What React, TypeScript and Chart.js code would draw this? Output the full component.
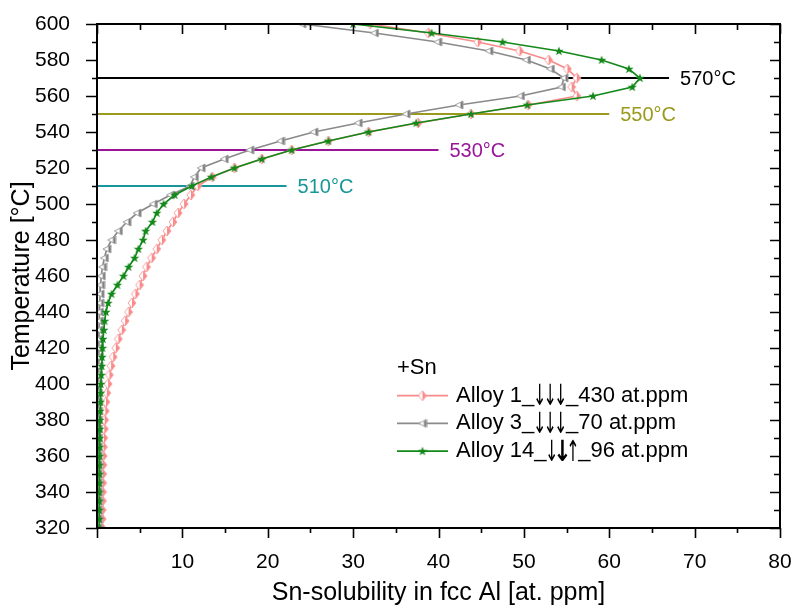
import React, { useEffect, useRef } from 'react';
import { Chart, registerables } from 'chart.js';

Chart.register(...registerables);

// Temperatures (°C), 600 → 320 in 5 °C steps
const temperatures = [
  600, 595, 590, 585, 580, 575, 570, 565, 560, 555, 550, 545, 540, 535, 530, 525, 520, 515, 510, 505,
  500, 495, 490, 485, 480, 475, 470, 465, 460, 455, 450, 445, 440, 435, 430, 425, 420, 415, 410, 405,
  400, 395, 390, 385, 380, 375, 370, 365, 360, 355, 350, 345, 340, 335, 330, 325, 320,
];

// Sn solubility in fcc Al [at. ppm]
const alloy1 = [
  32, 38.8, 44.6, 49.5, 52.9, 55.1, 56.2, 55.6, 56.2, 50.5, 43.8, 37.6, 31.8, 27.1, 22.8, 19.3, 16.1, 13.5, 11.8, 11.0,
  10.2, 9.5, 8.9, 8.2, 7.6, 7.0, 6.4, 5.8, 5.4, 5.0, 4.5, 4.1, 3.7, 3.3, 2.9, 2.5, 2.2, 1.9, 1.65, 1.45,
  1.3, 1.15, 1.05, 0.97, 0.9, 0.85, 0.8, 0.76, 0.73, 0.7, 0.68, 0.66, 0.65, 0.64, 0.62, 0.61, 0.6,
];
const alloy3 = [
  24, 32.5, 39.9, 45.9, 50.3, 53.1, 54.7, 54.4, 49.6, 42.4, 36.2, 30.6, 25.4, 21.5, 17.9, 14.9, 12.2, 11.4, 10.9, 8.6,
  6.6, 4.7, 3.5, 2.5, 1.7, 1.15, 0.86, 0.65, 0.5, 0.42, 0.36, 0.32, 0.28, 0.25, 0.23, 0.21, 0.2, 0.19, 0.18, 0.17,
  0.16, 0.15, 0.15, 0.14, 0.14, 0.13, 0.13, 0.12, 0.12, 0.12, 0.11, 0.11, 0.11, 0.1, 0.1, 0.1, 0.1,
];
const alloy14 = [
  30, 39.2, 47.5, 54.1, 59.1, 62.3, 63.6, 62.7, 58.1, 50.4, 43.8, 37.4, 31.8, 27.1, 22.8, 19.3, 16.1, 13.4, 11.1, 9.1,
  7.8, 7.0, 6.5, 5.7, 5.4, 4.85, 4.4, 3.7, 3.1, 2.4, 1.7, 1.3, 1.05, 0.9, 0.8, 0.7, 0.65, 0.6, 0.55, 0.5,
  0.45, 0.42, 0.4, 0.37, 0.35, 0.33, 0.32, 0.3, 0.3, 0.28, 0.28, 0.27, 0.26, 0.26, 0.25, 0.25, 0.25,
];

// Reference isotherms
const refTemps = [570, 550, 530, 510];
const refEnds = [67, 60, 40, 22.2];
const refLabels = ['570°C', '550°C', '530°C', '510°C'];
const refColors = ['#000000', '#9a9a1c', '#9a149a', '#17979a'];

const legendTitle = '+Sn';
const seriesNames = ['Alloy 1_↓↓↓_430 at.ppm', 'Alloy 3_↓↓↓_70 at.ppm', 'Alloy 14_↓↓↑_96 at.ppm'];
const seriesPrefix = ['Alloy 1_', 'Alloy 3_', 'Alloy 14_'];
const seriesArrows = ['↓↓↓', '↓↓↓', '↓↓↑'];
const seriesBoldArrow = [-1, -1, 1];
const seriesSuffix = ['_430 at.ppm', '_70 at.ppm', '_96 at.ppm'];
const seriesColors = ['#f98a8a', '#8a8a8a', '#13891a'];

const xTitle = 'Sn-solubility in fcc Al [at. ppm]';
const yTitle = 'Temperature [°C]';

const FONT = "'Liberation Sans', Arial, sans-serif";
const ARROW_FONT = "'DejaVu Sans', sans-serif";

function makePinkMarker(): HTMLCanvasElement {
  const c = document.createElement('canvas');
  c.width = 10; c.height = 12;
  const ctx = c.getContext('2d')!;
  ctx.beginPath();
  ctx.moveTo(5, 1); ctx.lineTo(9, 6); ctx.lineTo(5, 11); ctx.lineTo(1, 6); ctx.closePath();
  ctx.fillStyle = '#ffffff'; ctx.fill();
  ctx.save(); ctx.clip(); ctx.fillStyle = '#f98a8a'; ctx.fillRect(5, 0, 5, 12); ctx.restore();
  ctx.strokeStyle = '#f9a0a0'; ctx.lineWidth = 1; ctx.stroke();
  return c;
}
function makeGrayMarker(): HTMLCanvasElement {
  const c = document.createElement('canvas');
  c.width = 10; c.height = 10;
  const ctx = c.getContext('2d')!;
  ctx.beginPath();
  ctx.moveTo(1, 5); ctx.lineTo(9, 1); ctx.lineTo(9, 9); ctx.closePath();
  ctx.fillStyle = '#ffffff'; ctx.fill();
  ctx.save(); ctx.clip(); ctx.fillStyle = '#7a7a7a'; ctx.fillRect(6.5, 0, 4, 10); ctx.restore();
  ctx.strokeStyle = '#a0a0a0'; ctx.lineWidth = 1; ctx.stroke();
  return c;
}
function makeGreenMarker(): HTMLCanvasElement {
  const c = document.createElement('canvas');
  c.width = 10; c.height = 10;
  const ctx = c.getContext('2d')!;
  ctx.beginPath();
  for (let i = 0; i < 10; i++) {
    const r = i % 2 === 0 ? 4.8 : 2.0;
    const a = -Math.PI / 2 + (i * Math.PI) / 5;
    const px = 5 + r * Math.cos(a), py = 5.3 + r * Math.sin(a);
    if (i === 0) ctx.moveTo(px, py); else ctx.lineTo(px, py);
  }
  ctx.closePath();
  ctx.fillStyle = '#13891a'; ctx.fill();
  return c;
}

export default function App() {
  const ref = useRef<HTMLCanvasElement>(null);

  useEffect(() => {
    document.body.style.margin = '0';
    const canvas = ref.current!;
    const markers = [makePinkMarker(), makeGrayMarker(), makeGreenMarker()];
    const series = [alloy1, alloy3, alloy14];
    const orders = [3, 2, 1];

    const datasets: any[] = series.map((vals, i) => ({
      label: seriesNames[i],
      data: temperatures.map((t, j) => ({ x: vals[j], y: t })),
      showLine: true,
      borderColor: seriesColors[i],
      backgroundColor: seriesColors[i],
      borderWidth: 1.7,
      pointStyle: markers[i],
      pointRadius: 4,
      order: orders[i],
    }));
    refTemps.forEach((t, i) => {
      datasets.push({
        label: refLabels[i],
        data: [{ x: 0, y: t }, { x: refEnds[i], y: t }],
        showLine: true,
        borderColor: refColors[i],
        borderWidth: 1.8,
        pointRadius: 0,
        order: 10,
      });
    });

    const decor = {
      id: 'decor',
      afterDraw(chart: any) {
        const ctx = chart.ctx;
        const xs = chart.scales.x, ys = chart.scales.y;
        const { left, right, top, bottom } = chart.chartArea;
        ctx.save();
        ctx.strokeStyle = '#000';
        ctx.lineWidth = 1.6;
        ctx.beginPath();
        for (let v = 0; v <= 80; v += 5) {
          const px = Math.round(xs.getPixelForValue(v)) + 0.5;
          const major = v % 10 === 0;
          ctx.moveTo(px, bottom); ctx.lineTo(px, bottom + (major ? 10 : 5));
          ctx.moveTo(px, top); ctx.lineTo(px, top + (major ? 10 : 6));
        }
        for (let t = 320; t <= 600; t += 10) {
          const py = Math.round(ys.getPixelForValue(t)) + 0.5;
          const major = t % 20 === 0;
          ctx.moveTo(left, py); ctx.lineTo(left - (major ? 11 : 5), py);
          ctx.moveTo(right, py); ctx.lineTo(right - (major ? 10 : 6), py);
        }
        ctx.stroke();
        ctx.lineWidth = 2;
        ctx.strokeRect(left, top, right - left, bottom - top);

        // isotherm labels
        ctx.font = `20px ${FONT}`;
        ctx.textBaseline = 'middle';
        ctx.textAlign = 'left';
        refTemps.forEach((t, i) => {
          ctx.fillStyle = refColors[i];
          ctx.fillText(refLabels[i], xs.getPixelForValue(refEnds[i]) + 11, ys.getPixelForValue(t) + 1);
        });

        // legend
        const lx = 397, ly0 = 368, dy = 27.7;
        ctx.fillStyle = '#000';
        ctx.font = `22px ${FONT}`;
        ctx.fillText(legendTitle, lx, ly0);
        for (let i = 0; i < seriesNames.length; i++) {
          const y = ly0 + dy * (i + 1);
          ctx.strokeStyle = seriesColors[i];
          ctx.lineWidth = 1.8;
          ctx.beginPath(); ctx.moveTo(lx, y); ctx.lineTo(lx + 51, y); ctx.stroke();
          const m = markers[i];
          ctx.drawImage(m, lx + 25.5 - m.width / 2, y - m.height / 2);
          ctx.fillStyle = '#000';
          let tx = lx + 59;
          ctx.textAlign = 'left';
          ctx.font = `22px ${FONT}`;
          ctx.fillText(seriesPrefix[i], tx, y);
          tx += ctx.measureText(seriesPrefix[i]).width;
          const arrows = Array.from(seriesArrows[i]);
          ctx.textAlign = 'center';
          arrows.forEach((a, k) => {
            const bold = k === seriesBoldArrow[i];
            ctx.save();
            ctx.translate(tx + 5.3 + k * 10.6, y + 2);
            ctx.scale(bold ? 0.75 : 0.55, 1);
            ctx.font = bold ? `bold 29px ${ARROW_FONT}` : `29px ${ARROW_FONT}`;
            ctx.fillText(a, 0, 0);
            ctx.restore();
          });
          tx += arrows.length * 10.6;
          ctx.textAlign = 'left';
          ctx.font = `22px ${FONT}`;
          ctx.fillText(seriesSuffix[i], tx, y);
        }
        ctx.restore();
      },
    };

    const chart = new Chart(canvas, {
      type: 'scatter',
      data: { datasets },
      options: {
        animation: false,
        responsive: false,
        devicePixelRatio: 1,
        layout: { padding: { top: 24, right: 17, left: 0, bottom: 0 } },
        plugins: { legend: { display: false }, tooltip: { enabled: false } },
        scales: {
          x: {
            type: 'linear',
            min: 0,
            max: 80,
            grid: { display: false },
            border: { display: false },
            ticks: {
              stepSize: 10,
              autoSkip: false,
              maxRotation: 0,
              padding: 14,
              color: '#000',
              font: { family: FONT, size: 21 },
              callback: (v: any) => (v === 0 ? '' : String(v)),
            },
            title: {
              display: true,
              text: xTitle,
              color: '#000',
              font: { family: FONT, size: 25 },
              padding: { top: 0, bottom: 0 },
            },
            afterFit: (s: any) => { s.height = 80; s.paddingLeft = 0; s.paddingRight = 0; },
          },
          y: {
            type: 'linear',
            min: 320,
            max: 600,
            grid: { display: false },
            border: { display: false },
            ticks: {
              stepSize: 20,
              autoSkip: false,
              padding: 19,
              color: '#000',
              font: { family: FONT, size: 21 },
            },
            title: {
              display: true,
              text: yTitle,
              color: '#000',
              font: { family: FONT, size: 25 },
              padding: { top: 7, bottom: 0 },
            },
            afterFit: (s: any) => { s.width = 97; s.paddingTop = 0; s.paddingBottom = 0; },
          },
        },
      },
      plugins: [decor],
    });
    return () => chart.destroy();
  }, []);

  return (
    <div style={{ width: 797, height: 608 }}>
      <canvas ref={ref} width={797} height={608} style={{ display: 'block' }} />
    </div>
  );
}
